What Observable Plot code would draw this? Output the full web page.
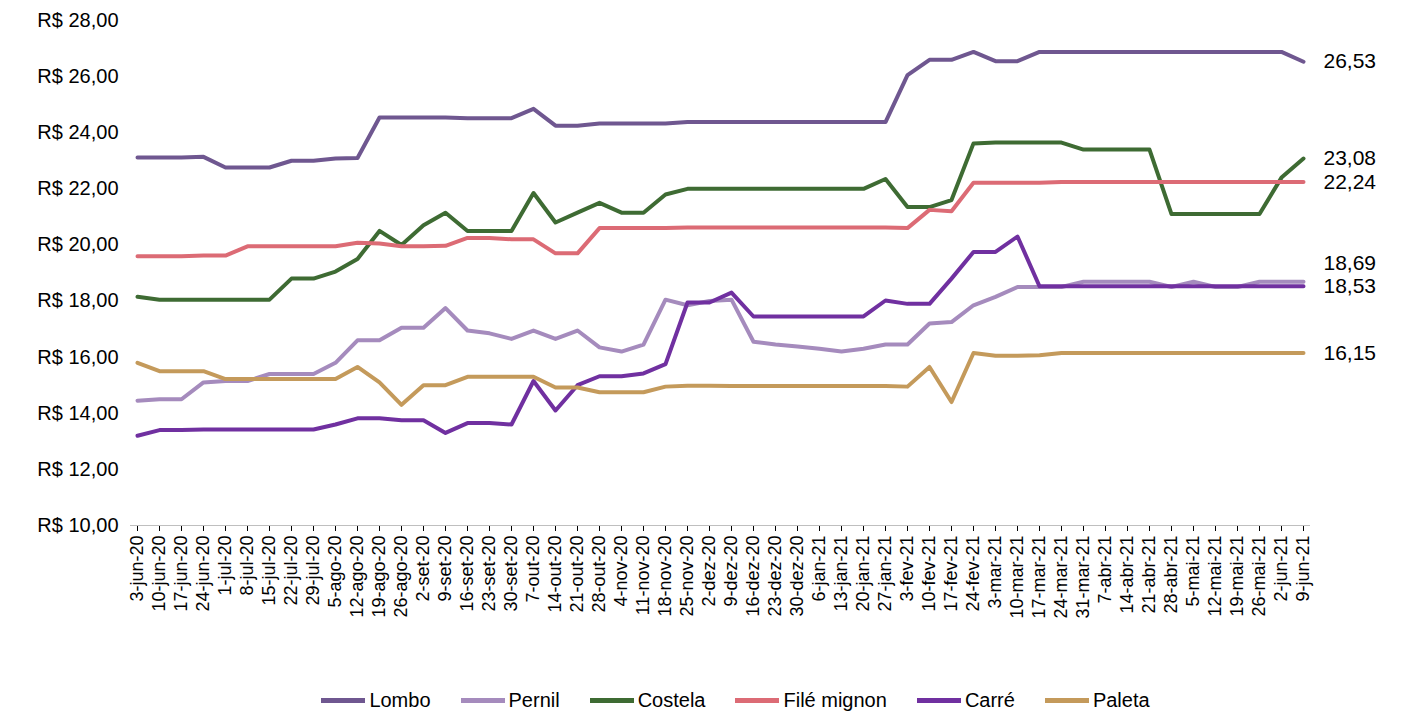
<!DOCTYPE html>
<html>
<head>
<meta charset="utf-8">
<script src="https://cdn.jsdelivr.net/npm/d3@7"></script>
<script src="https://cdn.jsdelivr.net/npm/@observablehq/plot@0.6"></script>
<style>
  body { margin: 0; background: #fff; font-family: "Liberation Sans", sans-serif; overflow: hidden; }
  #legend { display: flex; justify-content: center; gap: 30px; font-size: 20px; margin-left: 60px; line-height: 24px; }
  #legend span { display: inline-flex; align-items: center; }
  #legend i { display: inline-block; width: 44px; height: 5px; margin-right: 4px; }
</style>
</head>
<body>
<div id="chart"></div>
<div id="legend"></div>
<script>
const weeks = ["3-jun-20","10-jun-20","17-jun-20","24-jun-20","1-jul-20","8-jul-20","15-jul-20","22-jul-20","29-jul-20","5-ago-20","12-ago-20","19-ago-20","26-ago-20","2-set-20","9-set-20","16-set-20","23-set-20","30-set-20","7-out-20","14-out-20","21-out-20","28-out-20","4-nov-20","11-nov-20","18-nov-20","25-nov-20","2-dez-20","9-dez-20","16-dez-20","23-dez-20","30-dez-20","6-jan-21","13-jan-21","20-jan-21","27-jan-21","3-fev-21","10-fev-21","17-fev-21","24-fev-21","3-mar-21","10-mar-21","17-mar-21","24-mar-21","31-mar-21","7-abr-21","14-abr-21","21-abr-21","28-abr-21","5-mai-21","12-mai-21","19-mai-21","26-mai-21","2-jun-21","9-jun-21"]

const lombo = [23.12,23.12,23.12,23.14,22.76,22.76,22.76,23.0,23.0,23.08,23.1,24.54,24.54,24.54,24.54,24.52,24.52,24.52,24.85,24.25,24.25,24.33,24.33,24.33,24.33,24.38,24.38,24.38,24.38,24.38,24.38,24.38,24.38,24.38,24.38,26.05,26.6,26.6,26.88,26.55,26.55,26.88,26.88,26.88,26.88,26.88,26.88,26.88,26.88,26.88,26.88,26.88,26.88,26.53]
const pernil = [14.45,14.5,14.5,15.1,15.15,15.15,15.4,15.4,15.4,15.8,16.6,16.6,17.05,17.05,17.75,16.95,16.85,16.65,16.95,16.65,16.95,16.35,16.2,16.45,18.05,17.85,18.0,18.05,16.55,16.45,16.38,16.3,16.2,16.3,16.45,16.45,17.2,17.25,17.85,18.15,18.5,18.5,18.5,18.69,18.69,18.69,18.69,18.5,18.69,18.5,18.5,18.69,18.69,18.69]
const costela = [18.15,18.05,18.05,18.05,18.05,18.05,18.05,18.8,18.8,19.05,19.5,20.5,20.0,20.7,21.15,20.5,20.5,20.5,21.85,20.8,21.15,21.5,21.15,21.15,21.8,22.0,22.0,22.0,22.0,22.0,22.0,22.0,22.0,22.0,22.35,21.35,21.35,21.6,23.62,23.65,23.65,23.65,23.65,23.4,23.4,23.4,23.4,21.1,21.1,21.1,21.1,21.1,22.4,23.08]
const file = [19.6,19.6,19.6,19.62,19.62,19.95,19.95,19.95,19.95,19.95,20.08,20.05,19.95,19.95,19.97,20.25,20.25,20.2,20.2,19.7,19.7,20.6,20.6,20.6,20.6,20.62,20.62,20.62,20.62,20.62,20.62,20.62,20.62,20.62,20.62,20.6,21.25,21.2,22.22,22.22,22.22,22.22,22.24,22.24,22.24,22.24,22.24,22.24,22.24,22.24,22.24,22.24,22.24,22.24]
const carre = [13.2,13.4,13.4,13.42,13.42,13.42,13.42,13.42,13.42,13.6,13.82,13.82,13.75,13.75,13.3,13.65,13.65,13.6,15.15,14.1,15.0,15.32,15.32,15.42,15.75,17.95,17.95,18.3,17.45,17.45,17.45,17.45,17.45,17.45,18.02,17.9,17.9,18.8,19.75,19.75,20.3,18.53,18.53,18.53,18.53,18.53,18.53,18.53,18.53,18.53,18.53,18.53,18.53,18.53]
const paleta = [15.8,15.5,15.5,15.5,15.22,15.22,15.22,15.22,15.22,15.22,15.65,15.1,14.3,15.0,15.0,15.3,15.3,15.3,15.3,14.92,14.92,14.75,14.75,14.75,14.95,14.98,14.98,14.97,14.97,14.97,14.97,14.97,14.97,14.97,14.97,14.95,15.65,14.4,16.15,16.05,16.05,16.07,16.15,16.15,16.15,16.15,16.15,16.15,16.15,16.15,16.15,16.15,16.15,16.15]

const names = ["Lombo","Pernil","Costela","Filé mignon","Carré","Paleta"]
const seriesValues = [lombo, pernil, costela, file, carre, paleta]
const colors = ["#6f5790","#a58bbd","#3e6b33","#dc6b75","#7030a0","#c49a5b"]
const yTicks = [10,12,14,16,18,20,22,24,26,28]

const rows = names.flatMap((n, s) => seriesValues[s].map((v, i) => ({ serie: n, week: weeks[i], value: v })))
const last = names.map((n, s) => ({ serie: n, week: weeks[weeks.length - 1], value: seriesValues[s][weeks.length - 1] }))
const fmt = d3.format(".2f")
const brl = v => fmt(v).replace(".", ",")

const chart = Plot.plot({
  width: 1411,
  height: 688,
  marginLeft: 130,
  marginRight: 101,
  marginTop: 20,
  marginBottom: 163,
  style: { fontFamily: "Liberation Sans, sans-serif", fontSize: "18px", color: "#000" },
  x: { type: "point", domain: weeks, padding: 0, label: null, tickRotate: -90, tickSize: 6, tickPadding: 4 },
  y: { domain: [10, 28], ticks: yTicks, label: null, tickFormat: v => "R$ " + brl(v), tickSize: 0, tickPadding: 12 },
  color: { domain: names, range: colors },
  marks: [
    Plot.ruleY([10], { stroke: "#bfbfbf" }),
    Plot.lineY(rows, { x: "week", y: "value", z: "serie", stroke: "serie", strokeWidth: 4, strokeLinecap: "round", strokeLinejoin: "round" }),
    Plot.text(last.filter(d => d.serie !== "Pernil"), { x: "week", y: "value", text: d => brl(d.value), textAnchor: "start", dx: 20, fontSize: 21 }),
    Plot.text(last.filter(d => d.serie === "Pernil"), { x: "week", y: "value", text: d => brl(d.value), textAnchor: "start", dx: 20, dy: -18, fontSize: 21 })
  ]
})
chart.querySelectorAll("[aria-label='y-axis tick label'] text").forEach(t => t.style.fontSize = "20px")
document.getElementById("chart").append(chart)

const legend = d3.select("#legend")
names.forEach((n, s) => {
  const item = legend.append("span")
  item.append("i").style("background", colors[s])
  item.append("b").style("font-weight", "normal").text(n)
})
</script>
</body>
</html>
